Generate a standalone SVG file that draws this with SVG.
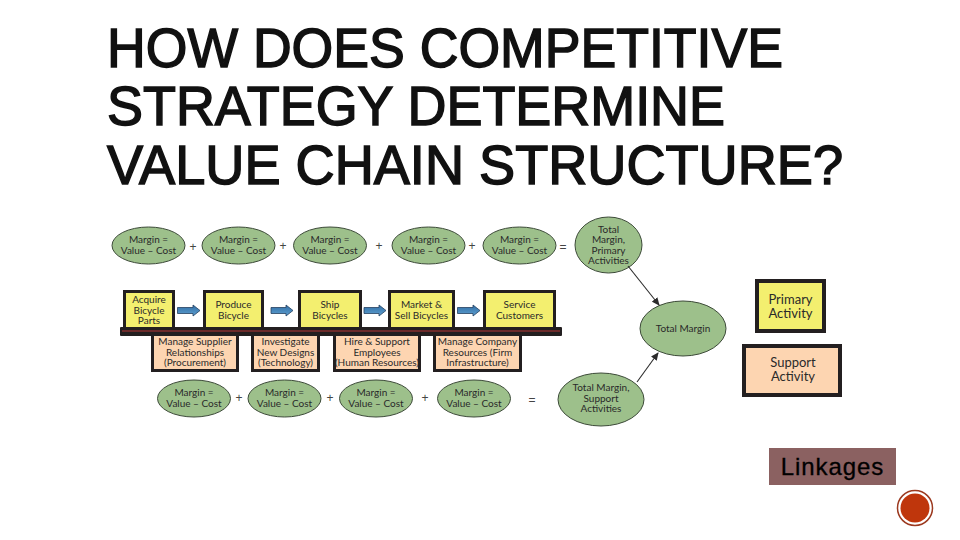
<svg xmlns="http://www.w3.org/2000/svg" width="960" height="540" viewBox="0 0 960 540">
<defs>
<marker id="ah" markerWidth="8" markerHeight="8" refX="7" refY="4" orient="auto" markerUnits="userSpaceOnUse"><path d="M0,0.5 L8,4 L0,7.5 Z" fill="#2b2b2b"/></marker>
<linearGradient id="blue" x1="0" y1="0" x2="0" y2="1"><stop offset="0" stop-color="#2f6ea5"/><stop offset="1" stop-color="#5f9fd0"/></linearGradient>
</defs>
<style>
.title{font:56px "Liberation Sans",Arial,sans-serif;fill:#111;stroke:#111;stroke-width:1.500}
.t{font:10px Lato,"Open Sans","Liberation Sans",sans-serif;fill:#2a2a2a;text-anchor:middle}
.lg{font:13px Lato,"Open Sans","Liberation Sans",sans-serif;fill:#2a2a2a;text-anchor:middle}
.op{font:12px "Liberation Sans",sans-serif;fill:#444;text-anchor:middle}
.oval{fill:#9dc08b;stroke:#3c4a38;stroke-width:1}
.pri{fill:#f3ef6f;stroke:#231f20;stroke-width:3}
.sup{fill:#fdd5b1;stroke:#231f20;stroke-width:3}
.leg{stroke-width:4}
.fat{fill:url(#blue);stroke:#24405f;stroke-width:.8}
.thin{stroke:#2b2b2b;stroke-width:1.1;fill:none;marker-end:url(#ah)}
</style>
<rect width="960" height="540" fill="#fff"/>
<g id="title">
<text class="title" x="107" y="67" textLength="676" lengthAdjust="spacingAndGlyphs">HOW DOES COMPETITIVE</text>
<text class="title" x="107" y="125" textLength="618" lengthAdjust="spacingAndGlyphs">STRATEGY DETERMINE</text>
<text class="title" x="107" y="184" textLength="736" lengthAdjust="spacingAndGlyphs">VALUE CHAIN STRUCTURE?</text>
</g>
<g id="m1"><ellipse class="oval" cx="148.500" cy="245.500" rx="36.500" ry="18.500"/><text class="t" y="243"><tspan x="148.500">Margin =</tspan><tspan x="148.500" dy="11">Value – Cost</tspan></text></g>
<g id="m2"><ellipse class="oval" cx="238.500" cy="245.500" rx="36.500" ry="18.500"/><text class="t" y="243"><tspan x="238.500">Margin =</tspan><tspan x="238.500" dy="11">Value – Cost</tspan></text></g>
<g id="m3"><ellipse class="oval" cx="330" cy="245.500" rx="36.500" ry="18.500"/><text class="t" y="243"><tspan x="330">Margin =</tspan><tspan x="330" dy="11">Value – Cost</tspan></text></g>
<g id="m4"><ellipse class="oval" cx="428.500" cy="245.500" rx="36.500" ry="18.500"/><text class="t" y="243"><tspan x="428.500">Margin =</tspan><tspan x="428.500" dy="11">Value – Cost</tspan></text></g>
<g id="m5"><ellipse class="oval" cx="519.500" cy="245.500" rx="36.500" ry="18.500"/><text class="t" y="243"><tspan x="519.500">Margin =</tspan><tspan x="519.500" dy="11">Value – Cost</tspan></text></g>
<g id="ops">
<text class="op" x="193" y="251">+</text><text class="op" x="283" y="250">+</text><text class="op" x="379" y="250">+</text><text class="op" x="472" y="250">+</text><text class="op" x="563" y="251">=</text>
<text class="op" x="239" y="402">+</text><text class="op" x="330" y="402">+</text><text class="op" x="425" y="402">+</text><text class="op" x="532" y="404">=</text>
</g>
<g id="total-primary"><ellipse class="oval" cx="608.500" cy="245" rx="33.500" ry="28"/><text class="t" y="233"><tspan x="608.500">Total</tspan><tspan x="608.500" dy="10.300">Margin,</tspan><tspan x="608.500" dy="10.300">Primary</tspan><tspan x="608.500" dy="10.300">Activities</tspan></text></g>
<g id="total-margin"><ellipse class="oval" cx="683" cy="328.500" rx="43" ry="27.500"/><text class="t" x="683" y="332">Total Margin</text></g>
<g id="total-support"><ellipse class="oval" cx="601" cy="399.500" rx="43" ry="26.500"/><text class="t" y="391"><tspan x="601">Total Margin,</tspan><tspan x="601" dy="10.500">Support</tspan><tspan x="601" dy="10.500">Activities</tspan></text></g>
<g id="p1"><rect class="pri" x="124.500" y="291.500" width="49" height="37"/><text class="t" y="303"><tspan x="149">Acquire</tspan><tspan x="149" dy="10.500">Bicycle</tspan><tspan x="149" dy="10.500">Parts</tspan></text></g>
<g id="p2"><rect class="pri" x="204.500" y="291.500" width="58" height="37"/><text class="t" y="308"><tspan x="233.500">Produce</tspan><tspan x="233.500" dy="11">Bicycle</tspan></text></g>
<g id="p3"><rect class="pri" x="299.500" y="291.500" width="61" height="37"/><text class="t" y="308"><tspan x="330">Ship</tspan><tspan x="330" dy="11">Bicycles</tspan></text></g>
<g id="p4"><rect class="pri" x="389.500" y="291.500" width="64" height="37"/><text class="t" y="308"><tspan x="421.500">Market &amp;</tspan><tspan x="421.500" dy="11">Sell Bicycles</tspan></text></g>
<g id="p5"><rect class="pri" x="484.500" y="291.500" width="70" height="37"/><text class="t" y="308"><tspan x="519.500">Service</tspan><tspan x="519.500" dy="11">Customers</tspan></text></g>
<g id="s1"><rect class="sup" x="152.500" y="333" width="85" height="37.500"/><text class="t" y="345"><tspan x="195">Manage Supplier</tspan><tspan x="195" dy="10.500">Relationships</tspan><tspan x="195" dy="10.500">(Procurement)</tspan></text></g>
<g id="s2"><rect class="sup" x="252.500" y="333" width="66" height="37.500"/><text class="t" y="345"><tspan x="285.500">Investigate</tspan><tspan x="285.500" dy="10.500">New Designs</tspan><tspan x="285.500" dy="10.500">(Technology)</tspan></text></g>
<g id="s3"><rect class="sup" x="334.500" y="333" width="85" height="37.500"/><text class="t" y="345"><tspan x="377">Hire &amp; Support</tspan><tspan x="377" dy="10.500">Employees</tspan><tspan x="377" dy="10.500">(Human Resources)</tspan></text></g>
<g id="s4"><rect class="sup" x="434.500" y="333" width="86" height="37.500"/><text class="t" y="345"><tspan x="477.500">Manage Company</tspan><tspan x="477.500" dy="10.500">Resources (Firm</tspan><tspan x="477.500" dy="10.500">Infrastructure)</tspan></text></g>
<g id="b1"><ellipse class="oval" cx="194" cy="398.500" rx="36.500" ry="18.500"/><text class="t" y="396"><tspan x="194">Margin =</tspan><tspan x="194" dy="11">Value – Cost</tspan></text></g>
<g id="b2"><ellipse class="oval" cx="284.500" cy="398.500" rx="36.500" ry="18.500"/><text class="t" y="396"><tspan x="284.500">Margin =</tspan><tspan x="284.500" dy="11">Value – Cost</tspan></text></g>
<g id="b3"><ellipse class="oval" cx="376" cy="398.500" rx="36.500" ry="18.500"/><text class="t" y="396"><tspan x="376">Margin =</tspan><tspan x="376" dy="11">Value – Cost</tspan></text></g>
<g id="b4"><ellipse class="oval" cx="474" cy="398.500" rx="36.500" ry="18.500"/><text class="t" y="396"><tspan x="474">Margin =</tspan><tspan x="474" dy="11">Value – Cost</tspan></text></g>
<g id="bar"><rect x="120" y="327" width="442" height="9" rx="1" fill="#231f20"/><rect x="122" y="330" width="438" height="2" fill="#6b2a2a"/></g>
<g id="connectors">
<path class="fat" d="M177.500,307.500 H193 V305 L200,310.500 L193,316 V313.500 H177.500 Z"/>
<path class="fat" d="M271,307.500 H286 V305 L293,310.500 L286,316 V313.500 H271 Z"/>
<path class="fat" d="M364,307.500 H379 V305 L386,310.500 L379,316 V313.500 H364 Z"/>
<path class="fat" d="M457.500,307.500 H473 V305 L480,310.500 L473,316 V313.500 H457.500 Z"/>
<path class="thin" d="M628,266 L659,305"/>
<path class="thin" d="M637,382 L658,353"/>
</g>
<g id="legend-primary"><rect class="pri leg" x="757" y="281" width="67" height="50"/><text class="lg" y="304"><tspan x="790.500">Primary</tspan><tspan x="790.500" dy="14">Activity</tspan></text></g>
<g id="legend-support"><rect class="sup leg" x="744" y="346" width="96" height="49"/><text class="lg" y="367"><tspan x="793">Support</tspan><tspan x="793" dy="14">Activity</tspan></text></g>
<g id="linkages"><rect x="769" y="448" width="127" height="37" fill="#8b6161"/><text x="832.500" y="475" font-family="Liberation Sans, Arial, sans-serif" font-size="24" letter-spacing=".9" text-anchor="middle" fill="#000" stroke="#000" stroke-width=".3">Linkages</text></g>
<g id="badge"><circle cx="915" cy="508" r="17.500" fill="#fff" stroke="#9c3a20" stroke-width="1.500"/><circle cx="915" cy="508" r="14.500" fill="#bf360c"/></g>
</svg>
